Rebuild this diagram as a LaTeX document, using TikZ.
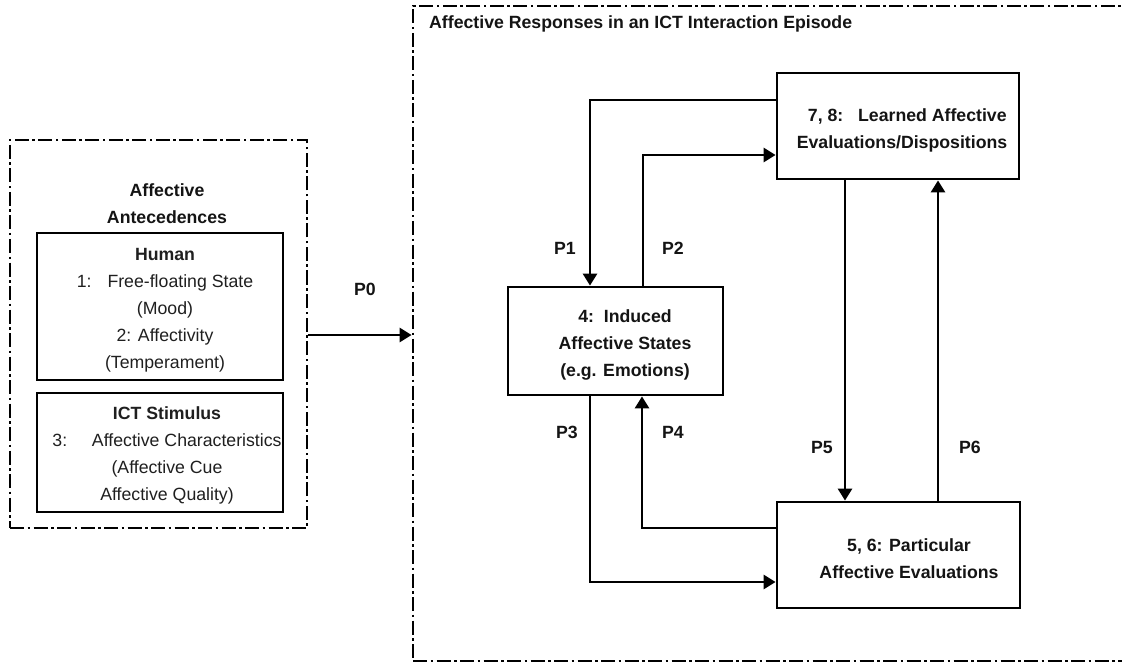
\documentclass[tikz,border=0pt]{standalone}
\usepackage{fontspec}
\setmainfont{Liberation Sans}
\usetikzlibrary{arrows.meta}
\begin{document}
\begin{tikzpicture}[x=1pt,y=-1pt,
  txt/.style={font=\fontsize{17.7}{27}\selectfont, align=center, inner sep=0pt, text=black!88},
  btxt/.style={txt, font=\fontsize{17.7}{27}\selectfont\bfseries, text=black!92},
  container/.style={draw, line width=2.8pt, dash pattern=on 14pt off 3.5pt on 2.5pt off 3.5pt, inner sep=0pt},
  box/.style={draw, line width=2.8pt, inner sep=0pt},
  arr/.style={line width=2.8pt, -{Triangle[length=12pt,width=14pt]}},
  lbl/.style={font=\fontsize{17.7}{20}\selectfont\bfseries, inner sep=0pt, text=black!92}]
\useasboundingbox (0,0) rectangle (1122,663);
\clip (0,0) rectangle (1122,663);

% dash-dotted groups
\node[container, minimum width=297pt, minimum height=388pt] (ante) at (158.5,334) {};
\node[container, minimum width=740pt, minimum height=655pt] (resp) at (783,333.5) {};
\node[btxt, anchor=west] (resptitle) at (429,24) {Affective Responses in an ICT Interaction Episode};

% antecedents
\node[btxt] (antetitle) at (167,203.5) {Affective\\Antecedences};
\node[box, minimum width=246pt, minimum height=147pt] (human) at (160,306.5) {};
\node[txt] (humantxt) at (165,310.5) {\textbf{Human}\\1:\hspace{0.9em}Free-floating State\\(Mood)\\2: Affectivity\\(Temperament)};
\node[box, minimum width=246pt, minimum height=119pt] (ict) at (160,452.5) {};
\node[txt] (icttxt) at (167,455) {\textbf{ICT Stimulus}\\3:\hspace{1.4em}Affective Characteristics\\(Affective Cue\\Affective Quality)};

% affective responses
\node[box, minimum width=215pt, minimum height=108pt] (induced) at (615.5,341) {};
\node[btxt] (inducedtxt) at (625,345) {4:\ \ Induced\\Affective States\\(e.g. Emotions)};
\node[box, minimum width=242pt, minimum height=106pt] (learned) at (898,126) {};
\node[btxt] (learnedtxt) at (902,130) {\hspace{0.6em}7, 8:\ \ \ Learned Affective\\Evaluations/Dispositions};
\node[box, minimum width=243pt, minimum height=106pt] (partic) at (898.5,555) {};
\node[btxt] (partictxt) at (909,558.5) {5, 6: Particular\\Affective Evaluations};

% paths
\draw[arr] (ante.east |- 0,335) -- (resp.west |- 0,335);
\draw[arr] (learned.west |- 0,100) -| (induced.north -| 590,0);
\draw[arr] (induced.north -| 643,0) |- (learned.west |- 0,155);
\draw[arr] (induced.south -| 590,0) |- (partic.west |- 0,582);
\draw[arr] (partic.west |- 0,528) -| (induced.south -| 642,0);
\draw[arr] (learned.south -| 845,0) -- (partic.north -| 845,0);
\draw[arr] (partic.north -| 938,0) -- (learned.south -| 938,0);

% path labels
\node[lbl] (p0) at (365,289) {P0};
\node[lbl] (p1) at (565,248) {P1};
\node[lbl] (p2) at (673,248) {P2};
\node[lbl] (p3) at (567,432) {P3};
\node[lbl] (p4) at (673,432) {P4};
\node[lbl] (p5) at (822,447) {P5};
\node[lbl] (p6) at (970,447) {P6};
\end{tikzpicture}
\end{document}
